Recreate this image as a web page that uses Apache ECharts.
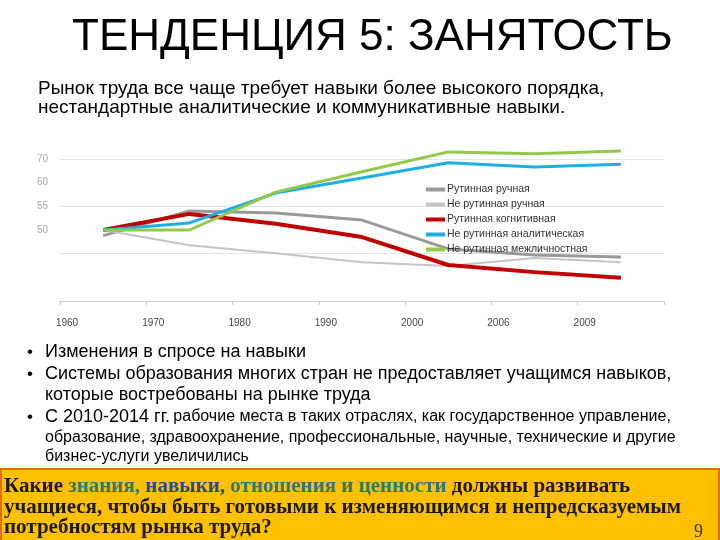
<!DOCTYPE html>
<html>
<head>
<meta charset="utf-8">
<script src="https://cdn.jsdelivr.net/npm/echarts@6/dist/echarts.min.js"></script>
<style>
  html, body { margin: 0; padding: 0; background: #fff; }
  #chartWrapper { width: 720px; height: 540px; }
</style>
</head>
<body>
<div id="chartWrapper"></div>
<script>
// данные графика (индекс)
const years = ["1960", "1970", "1980", "1990", "2000", "2006", "2009"];
const yTickLabels = ["", "", "", "50", "55", "60", "70"]; // подписи для 35..65 шаг 5
const seriesNames = ["Рутинная ручная", "Не рутинная ручная", "Рутинная когнитивная",
                     "Не рутинная аналитическая", "Не рутинная межличностная"];
const routineManual     = [48.8, 54.0, 53.6, 52.1, 46.0, 44.7, 44.3];
const nonRoutineManual  = [50.0, 46.8, 45.1, 43.2, 42.4, 44.1, 43.2];
const routineCognitive  = [50.0, 53.4, 51.3, 48.5, 42.6, 41.1, 39.9];
const nonRoutineAnalytic = [50.0, 51.5, 57.8, 61.0, 64.2, 63.3, 63.9];
const nonRoutineInterpersonal = [50.0, 50.0, 58.0, 62.3, 66.5, 66.1, 66.7];

const colors = ["#9a9a9a", "#c4c4c4", "#c00000", "#1eaee0", "#92c94c"];
const widths = [3, 2, 4, 3, 3];
const allValues = [routineManual, nonRoutineManual, routineCognitive, nonRoutineAnalytic, nonRoutineInterpersonal];

const myChart = echarts.init(document.getElementById("chartWrapper"));

const sans = "'Liberation Sans', Arial, sans-serif";
const serif = "'Liberation Serif', 'DejaVu Serif', serif";

let option = {
  backgroundColor: "#fff",
  animation: false,
  grid: { left: 60, right: 56, top: 159, bottom: 239 },
  legend: {
    orient: "vertical",
    left: 421,
    top: 179,
    itemWidth: 19,
    itemHeight: 4,
    itemGap: 4,
    icon: "rect",
    textStyle: { fontFamily: sans, fontSize: 10.5, color: "#333", padding: [0, 0, 0, -3] },
    data: seriesNames
  },
  xAxis: {
    type: "value",
    min: 0,
    max: 7,
    interval: 1,
    splitLine: { show: false },
    axisLine: { lineStyle: { color: "#cccccc" } },
    axisTick: { show: true, length: 4, lineStyle: { color: "#cccccc" } },
    axisLabel: {
      margin: 17,
      padding: [0, 0, 0, 14],
      fontFamily: sans,
      fontSize: 10,
      color: "#444",
      formatter: v => years[v] || ""
    }
  },
  yAxis: [
    {
      // линии сетки через 10
      type: "value",
      min: 35,
      max: 65,
      interval: 10,
      axisLine: { show: false },
      axisTick: { show: false },
      axisLabel: { show: false },
      splitLine: { lineStyle: { color: "#e4e4e4" } }
    },
    {
      // подписи через 5
      type: "value",
      position: "left",
      min: 35,
      max: 65,
      interval: 5,
      axisLine: { show: false },
      axisTick: { show: false },
      splitLine: { show: false },
      axisLabel: {
        margin: 12,
        fontFamily: sans,
        fontSize: 10,
        color: "#aaa",
        formatter: v => yTickLabels[Math.round((v - 35) / 5)] || ""
      }
    }
  ],
  series: allValues.map((vals, i) => ({
    name: seriesNames[i],
    type: "line",
    symbol: "none",
    clip: false,
    yAxisIndex: 0,
    itemStyle: { color: colors[i] },
    lineStyle: { color: colors[i], width: widths[i] },
    data: vals.map((v, k) => [k + 0.5, v])
  })),
  graphic: [
    { type: "text", left: 72, top: 16, style: { text: "ТЕНДЕНЦИЯ 5: ЗАНЯТОСТЬ", font: "44px " + sans, fill: "#000" } },
    { type: "text", left: 38, top: 79, style: { text: "Рынок труда все чаще требует навыки более высокого порядка,", font: "19px " + sans, fill: "#000" } },
    { type: "text", left: 38, top: 98, style: { text: "нестандартные аналитические и коммуникативные навыки.", font: "19px " + sans, fill: "#000" } },

    { type: "text", left: 27, top: 344, style: { text: "•", font: "17px " + sans, fill: "#000" } },
    { type: "text", left: 45, top: 343, style: { text: "Изменения в спросе на навыки", font: "18px " + sans, fill: "#000" } },
    { type: "text", left: 27, top: 366, style: { text: "•", font: "17px " + sans, fill: "#000" } },
    { type: "text", left: 45, top: 365, style: { text: "Системы образования многих стран не предоставляет учащимся навыков,", font: "18px " + sans, fill: "#000" } },
    { type: "text", left: 45, top: 386, style: { text: "которые востребованы на рынке труда", font: "18px " + sans, fill: "#000" } },
    { type: "text", left: 27, top: 409, style: { text: "•", font: "17px " + sans, fill: "#000" } },
    {
      type: "text", left: 45, top: 408,
      style: {
        text: "{a|С 2010-2014 гг.} {b|рабочие места в таких отраслях, как государственное управление,}",
        rich: {
          a: { font: "18px " + sans, fill: "#000" },
          b: { font: "16px " + sans, fill: "#000" }
        }
      }
    },
    { type: "text", left: 45, top: 430, style: { text: "образование, здравоохранение, профессиональные, научные, технические и другие", font: "16px " + sans, fill: "#000" } },
    { type: "text", left: 45, top: 449, style: { text: "бизнес-услуги увеличились", font: "16px " + sans, fill: "#000" } },

    { type: "rect", shape: { x: 1, y: 469, width: 718, height: 72 }, style: { fill: "#ffc000", stroke: "#e46c0a", lineWidth: 2 } },
    {
      type: "text", left: 4, top: 476,
      style: {
        text: "{k|Какие }{t|знания, }{b|навыки, }{t|отношения и ценности}{k| должны развивать}",
        rich: {
          k: { font: "bold 21px " + serif, fill: "#1a1a1a" },
          t: { font: "bold 21px " + serif, fill: "#2a7a72" },
          b: { font: "bold 21px " + serif, fill: "#1f4e8c" }
        }
      }
    },
    { type: "text", left: 4, top: 497, style: { text: "учащиеся, чтобы быть готовыми к изменяющимся и непредсказуемым", font: "bold 21px " + serif, fill: "#1a1a1a" } },
    { type: "text", left: 4, top: 517, style: { text: "потребностям рынка труда?", font: "bold 21px " + serif, fill: "#1a1a1a" } },
    { type: "text", left: 694, top: 523, style: { text: "9", font: "18px " + serif, fill: "#333" } }
  ]
};

myChart.setOption(option);
</script>
</body>
</html>
